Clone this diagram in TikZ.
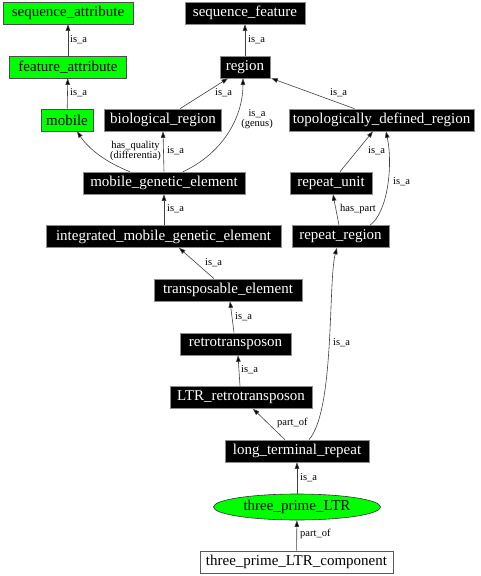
\documentclass[tikz,border=0pt]{standalone}
\usepackage{fontspec}
\setmainfont{Liberation Serif}
\usetikzlibrary{arrows.meta,calc,shapes.geometric}
\definecolor{lime}{HTML}{00FF00}
\tikzset{
  base/.style={inner sep=0pt, minimum height=22pt, font=\fontsize{15}{17}\selectfont, line width=0.6pt},
  blk/.style={base, rectangle, fill=black, draw=black!45, text=white},
  grn/.style={base, rectangle, fill=lime, draw=black!70, text=black},
  wht/.style={base, rectangle, fill=white, draw=black!65, text=black},
  oval/.style={base, ellipse, fill=lime, draw=black!80, text=black},
  lbl/.style={inner sep=0pt, anchor=west, font=\fontsize{10.5}{11}\selectfont},
  lblc/.style={inner sep=0pt, align=center, font=\fontsize{10.5}{10}\selectfont},
  edge/.style={draw=black!75, line width=0.6pt, -{Triangle[length=6.5pt,width=4.5pt,fill=black]}}
}
\begin{document}
\begin{tikzpicture}[x=1pt,y=-1pt]
\useasboundingbox (0,0) rectangle (481,576);
% nodes
\node[grn, minimum width=130pt] (sa) at (68,13) {sequence\_attribute};
\node[blk, minimum width=120pt] (sf) at (245,13) {sequence\_feature};
\node[grn, minimum width=117pt] (fa) at (68,67) {feature\_attribute};
\node[blk, minimum width=50pt] (region) at (245,67) {region};
\node[grn, minimum width=52pt] (mobile) at (67,120) {mobile};
\node[blk, minimum width=117pt] (bio) at (163,120) {biological\_region};
\node[blk, minimum width=185pt] (topo) at (381.5,120) {topologically\_defined\_region};
\node[blk, minimum width=162pt] (mge) at (164,183) {mobile\_genetic\_element};
\node[blk, minimum width=82pt] (ru) at (331,183) {repeat\_unit};
\node[blk, minimum width=235pt] (imge) at (163.5,236.5) {integrated\_mobile\_genetic\_element};
\node[blk, minimum width=97pt] (rr) at (340.5,236.5) {repeat\_region};
\node[blk, minimum width=148pt] (te) at (228,290) {transposable\_element};
\node[blk, minimum width=111pt] (retro) at (235.5,344) {retrotransposon};
\node[blk, minimum width=142pt] (ltrr) at (241,397.5) {LTR\_retrotransposon};
\node[blk, minimum width=144pt] (ltr) at (297,451) {long\_terminal\_repeat};
\node[oval, minimum width=167pt, minimum height=26pt] (tpl) at (297,507) {three\_prime\_LTR};
\node[wht, minimum width=193pt] (comp) at (296.5,562) {three\_prime\_LTR\_component};
% edges
\draw[edge] (fa) -- (sa);
\draw[edge] (region) -- (sf);
\draw[edge] (mobile) -- (fa);
\draw[edge] ($(bio.north)+(17,0)$) -- ($(region.south)+(-17,0)$);
\draw[edge] ($(mge.north)+(19,0)$) .. controls (225,152) and (243,115) .. ($(region.south)+(-2,0)$);
\draw[edge] ($(topo.north)+(-27,0)$) -- ($(region.south east)+(1,0)$);
\draw[edge] ($(mge.north)+(-34,0)$) .. controls (105,162) and (88,148) .. ($(mobile.south)+(10,0)$);
\draw[edge] (mge.north) -- (bio.south);
\draw[edge] ($(ru.north)+(9,0)$) -- ($(topo.south)+(-8.5,0)$);
\draw[edge] ($(rr.north)+(29.5,0)$) .. controls (388,212) and (393,165) .. ($(topo.south)+(4.5,0)$);
\draw[edge] ($(rr.north)+(-1.5,0)$) -- ($(ru.south)+(2,0)$);
\draw[edge] (imge.north -| mge.north) -- (mge.south);
\draw[edge] ($(te.north)+(-14,0)$) -- ($(imge.south)+(15.5,0)$);
\draw[edge] ($(retro.north)+(-1.5,0)$) -- ($(te.south)+(2,0)$);
\draw[edge] ($(ltrr.north)+(-1,0)$) -- ($(retro.south)+(2.5,0)$);
\draw[edge] ($(ltr.north)+(-12,0)$) -- ($(ltrr.south)+(12,0)$);
\draw[edge] ($(ltr.north)+(12,0)$) .. controls (335,410) and (328,280) .. ($(rr.south)+(-3.5,0)$);
\draw[edge] (tpl) -- (ltr);
\draw[edge] (comp) -- (tpl);
% labels
\node[lbl] (l1) at (70,40) {is\_a};
\node[lbl] (l2) at (248,40) {is\_a};
\node[lbl] (l3) at (70,93) {is\_a};
\node[lbl] (l4) at (215,93) {is\_a};
\node[lbl] (l5) at (330,93) {is\_a};
\node[lblc] (l6) at (257,119.5) {is\_a\\(genus)};
\node[lblc] (l7) at (135.5,151) {has\_quality\\(differentia)};
\node[lbl] (l8) at (167,151) {is\_a};
\node[lbl] (l9) at (368,151) {is\_a};
\node[lbl] (l10) at (393,182) {is\_a};
\node[lbl] (l11) at (167,209) {is\_a};
\node[lbl] (l12) at (340,209) {has\_part};
\node[lbl] (l13) at (205,263) {is\_a};
\node[lbl] (l14) at (235,317) {is\_a};
\node[lbl] (l15) at (333,343) {is\_a};
\node[lbl] (l16) at (241,370) {is\_a};
\node[lbl] (l17) at (277,423) {part\_of};
\node[lbl] (l18) at (300,478) {is\_a};
\node[lbl] (l19) at (300,534) {part\_of};
\end{tikzpicture}
\end{document}
